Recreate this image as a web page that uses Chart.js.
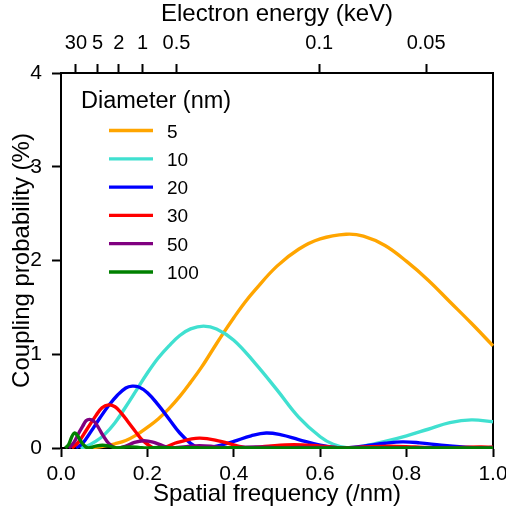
<!DOCTYPE html>
<html>
<head>
<meta charset="utf-8">
<script src="https://cdn.jsdelivr.net/npm/chart.js@4.4.0/dist/chart.umd.min.js"></script>
<style>
  html, body { margin: 0; padding: 0; background: #fff; overflow: hidden; }
</style>
</head>
<body>
<canvas id="chart" width="506" height="513"></canvas>
<script>
// diameters (nm) and colours, in legend order
const diameters = ['5', '10', '20', '30', '50', '100'];
const colors = ['#FFA500', '#40E0D0', '#0000FF', '#FF0000', '#800080', '#008000'];

// coupling probability (%) vs spatial frequency (/nm)
const d5X = [0.05, 0.075, 0.1, 0.125, 0.15, 0.175, 0.2, 0.225, 0.25, 0.275, 0.3, 0.325, 0.35, 0.375, 0.4, 0.425, 0.45, 0.5, 0.55, 0.6, 0.66, 0.7, 0.75, 0.8, 0.85, 0.9, 0.95, 1.0];
const d5Y = [0, 0.005, 0.02, 0.045, 0.08, 0.14, 0.22, 0.31, 0.42, 0.55, 0.7, 0.86, 1.04, 1.22, 1.39, 1.55, 1.69, 1.94, 2.12, 2.23, 2.28, 2.26, 2.16, 1.99, 1.79, 1.56, 1.33, 1.09];

const d10X = [0.045, 0.06, 0.08, 0.1, 0.125, 0.15, 0.175, 0.2, 0.225, 0.25, 0.275, 0.3, 0.33, 0.36, 0.4, 0.45, 0.5, 0.55, 0.6, 0.63, 0.665, 0.7, 0.75, 0.8, 0.85, 0.9, 0.95, 1.0];
const d10Y = [0, 0.02, 0.07, 0.14, 0.27, 0.44, 0.62, 0.8, 0.96, 1.09, 1.2, 1.27, 1.3, 1.27, 1.15, 0.9, 0.62, 0.33, 0.12, 0.04, 0, 0.02, 0.07, 0.13, 0.2, 0.27, 0.3, 0.28];

const d20X = [0.035, 0.05, 0.07, 0.09, 0.11, 0.13, 0.15, 0.165, 0.18, 0.2, 0.225, 0.25, 0.275, 0.3, 0.32, 0.345, 0.37, 0.4, 0.44, 0.475, 0.51, 0.55, 0.6, 0.65, 0.7, 0.75, 0.79, 0.83, 0.88, 0.93, 0.97, 1.0];
const d20Y = [0, 0.05, 0.18, 0.32, 0.45, 0.56, 0.64, 0.66, 0.65, 0.59, 0.46, 0.31, 0.16, 0.05, 0, 0.005, 0.03, 0.07, 0.13, 0.16, 0.14, 0.09, 0.03, 0, 0.02, 0.05, 0.065, 0.055, 0.03, 0.01, 0, 0.005];

const d30X = [0.025, 0.04, 0.06, 0.08, 0.095, 0.11, 0.125, 0.14, 0.155, 0.17, 0.185, 0.2, 0.215, 0.24, 0.27, 0.32, 0.37, 0.41, 0.435, 0.48, 0.54, 0.6, 0.655, 0.7, 0.76, 0.82, 0.875, 0.93, 0.97, 1.0];
const d30Y = [0, 0.06, 0.2, 0.34, 0.43, 0.46, 0.44, 0.37, 0.28, 0.19, 0.1, 0.04, 0, 0.01, 0.06, 0.105, 0.07, 0.02, 0, 0.02, 0.035, 0.02, 0, 0.01, 0.02, 0.01, 0, 0.006, 0.01, 0.008];

const d50X = [0.018, 0.03, 0.04, 0.05, 0.058, 0.066, 0.075, 0.085, 0.095, 0.105, 0.115, 0.128, 0.15, 0.17, 0.192, 0.215, 0.235, 0.255, 0.29, 0.32, 0.355, 0.385, 0.42, 0.45, 0.48, 0.515, 0.55, 0.58, 0.61, 0.645, 0.7, 0.775, 0.84, 0.9, 0.97, 1.0];
const d50Y = [0, 0.06, 0.15, 0.23, 0.29, 0.305, 0.29, 0.23, 0.15, 0.08, 0.03, 0, 0.02, 0.06, 0.078, 0.06, 0.025, 0, 0.015, 0.025, 0.015, 0, 0.008, 0.012, 0.008, 0, 0.005, 0.007, 0.005, 0, 0.004, 0, 0.003, 0, 0.002, 0.001];

const d100X = [0.01, 0.018, 0.025, 0.031, 0.037, 0.045, 0.053, 0.063, 0.08, 0.096, 0.112, 0.13, 0.145, 0.162, 0.18, 0.197, 0.23, 0.265, 0.3, 0.33, 0.4, 0.5, 1.0];
const d100Y = [0, 0.04, 0.12, 0.16, 0.14, 0.08, 0.03, 0, 0.02, 0.03, 0.02, 0, 0.008, 0.012, 0.007, 0, 0.006, 0, 0.004, 0, 0.002, 0, 0];

const seriesX = [d5X, d10X, d20X, d30X, d50X, d100X];
const seriesY = [d5Y, d10Y, d20Y, d30Y, d50Y, d100Y];

// axis ticks
const freqTicks = [0, 0.2, 0.4, 0.6, 0.8, 1.0];
const probTicks = [0, 1, 2, 3, 4];
const energyLabels = ['30', '5', '2', '1', '0.5', '0.1', '0.05'];   // keV
const energyToFreq = e => 0.189 / Math.sqrt(e);  // top axis position for an energy

const FONT = "'Liberation Sans', Arial, sans-serif";
Chart.defaults.font.family = FONT;
Chart.defaults.color = '#000';

// force each axis box to a fixed size so the plot area lands where the figure has it
function fixSize(size, horizontal) {
  return scale => {
    if (horizontal) scale.height = size; else scale.width = size;
    scale.paddingLeft = 0; scale.paddingRight = 0;
    scale.paddingTop = 0; scale.paddingBottom = 0;
  };
}

const axisGrid = { drawOnChartArea: false, drawTicks: true, tickLength: 9, tickColor: '#000', tickWidth: 2 };
const axisBorder = { display: true, color: '#000', width: 2 };

const datasets = diameters.map((d, i) => ({
  label: d,
  data: seriesX[i].map((x, j) => ({ x: x, y: seriesY[i][j] })),
  borderColor: colors[i],
  backgroundColor: colors[i],
  borderWidth: 3.4,
  pointRadius: 0,
  tension: 0.4,
  clip: { left: 5, top: 5, right: 5, bottom: 1 },
  order: diameters.length - i   // later diameters drawn on top
}));

// right side of the frame
const framePlugin = {
  id: 'frame',
  beforeDatasetsDraw(chart) {
    const { ctx, chartArea: a } = chart;
    ctx.save();
    ctx.strokeStyle = '#000';
    ctx.lineWidth = 2;
    ctx.beginPath();
    ctx.moveTo(a.right, a.top - 1);
    ctx.lineTo(a.right, a.bottom + 1);
    ctx.stroke();
    ctx.restore();
  }
};

// legend inside the plot, with a title
const legendPlugin = {
  id: 'insideLegend',
  afterDraw(chart) {
    const ctx = chart.ctx;
    ctx.save();
    ctx.fillStyle = '#000';
    ctx.textBaseline = 'alphabetic';
    ctx.font = '23.5px ' + FONT;
    ctx.fillText('Diameter (nm)', 81, 108);
    ctx.font = '19px ' + FONT;
    chart.data.datasets.forEach((ds, i) => {
      const y = 130.5 + i * 28.3;
      ctx.strokeStyle = ds.borderColor;
      ctx.lineWidth = 3.3;
      ctx.beginPath();
      ctx.moveTo(109, y);
      ctx.lineTo(153, y);
      ctx.stroke();
      ctx.fillText(ds.label, 167, y + 7);
    });
    ctx.restore();
  }
};

new Chart(document.getElementById('chart'), {
  type: 'line',
  data: { datasets: datasets },
  options: {
    responsive: false,
    animation: false,
    layout: { padding: { left: 0, right: 13, top: 0, bottom: 0 } },
    plugins: { legend: { display: false }, tooltip: { enabled: false } },
    scales: {
      x: {
        type: 'linear', position: 'bottom', min: 0, max: 1,
        afterBuildTicks: s => { s.ticks = freqTicks.map(v => ({ value: v })); },
        afterFit: fixSize(65, true),
        grid: axisGrid, border: axisBorder,
        ticks: { autoSkip: false, maxRotation: 0, padding: 5, font: { size: 21 }, callback: v => v.toFixed(1) },
        title: { display: true, text: 'Spatial frequency (/nm)', font: { size: 24 }, padding: { top: 0, bottom: 4 } }
      },
      x2: {
        type: 'linear', position: 'top', min: 0, max: 1,
        afterBuildTicks: s => { s.ticks = energyLabels.map(e => ({ value: energyToFreq(parseFloat(e)) })); },
        afterFit: fixSize(73, true),
        grid: axisGrid, border: axisBorder,
        ticks: { autoSkip: false, maxRotation: 0, padding: 9, font: { size: 20 }, callback: (v, i) => energyLabels[i] },
        title: { display: true, text: 'Electron energy (keV)', font: { size: 24 }, padding: { top: 0, bottom: 0 } }
      },
      y: {
        type: 'linear', position: 'left', min: 0, max: 4,
        afterBuildTicks: s => { s.ticks = probTicks.map(v => ({ value: v })); },
        afterFit: fixSize(61, false),
        grid: axisGrid, border: axisBorder,
        ticks: { padding: 10, font: { size: 21 }, callback: v => String(v) },
        title: { display: true, text: 'Coupling probability (%)', font: { size: 24 }, padding: { top: 8, bottom: 0 } }
      }
    }
  },
  plugins: [framePlugin, legendPlugin]
});
</script>
</body>
</html>
